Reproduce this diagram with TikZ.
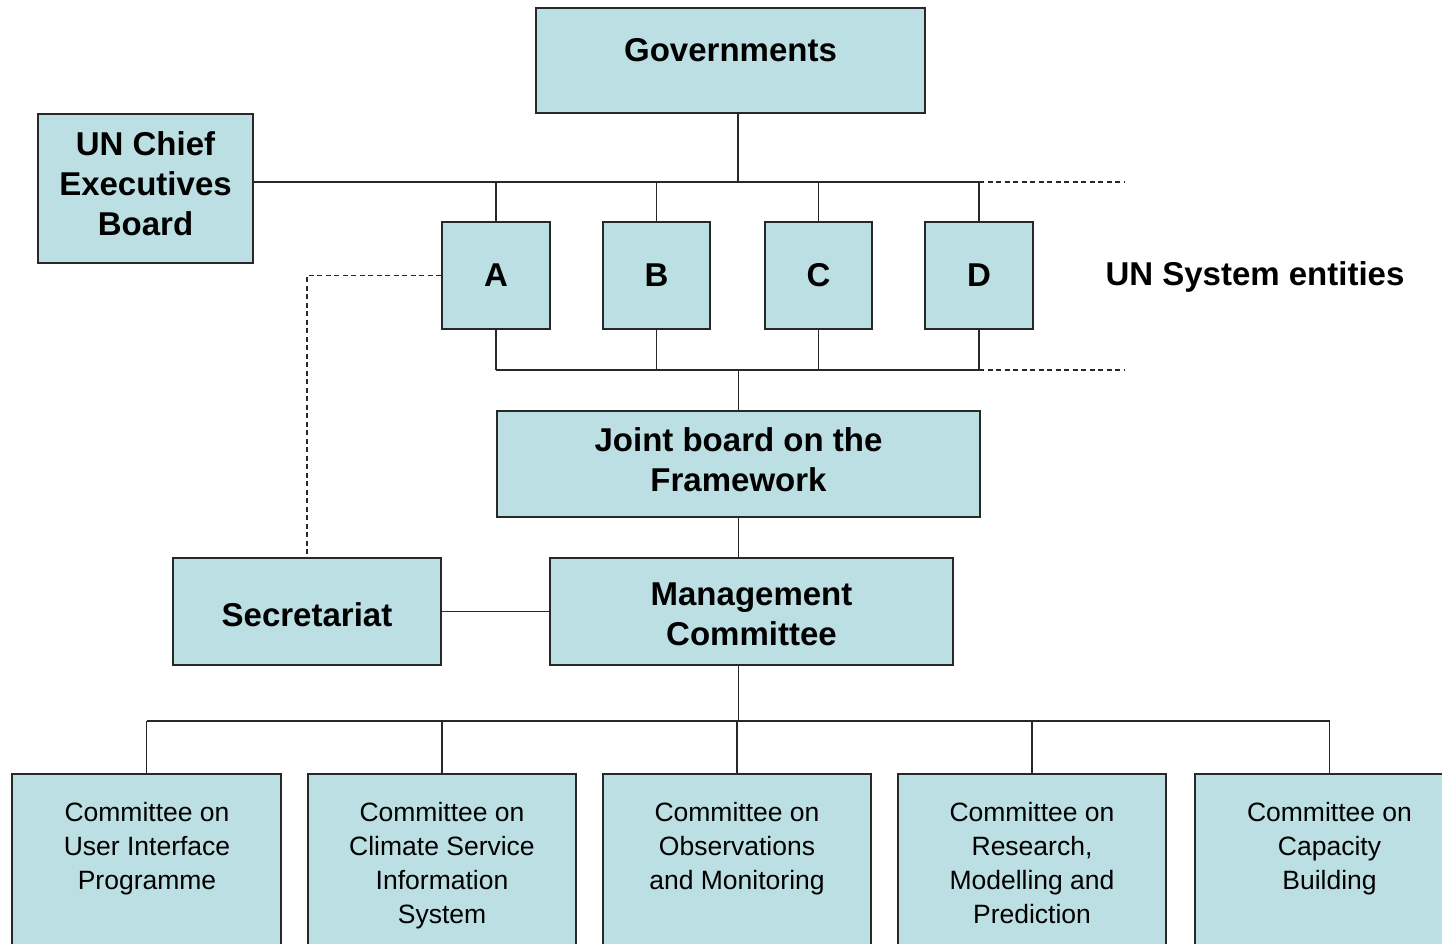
\documentclass[tikz,border=0pt]{standalone}
\usepackage{fontspec}
\setmainfont{Liberation Sans}
\definecolor{bf}{RGB}{187,223,226}
\definecolor{lc}{RGB}{40,40,40}
\begin{document}
\begin{tikzpicture}[x=1pt,y=-1pt,
  box/.style={draw=lc, fill=bf, line width=1.8pt, inner sep=0pt, align=center},
  bt/.style={font=\fontsize{33}{40}\selectfont\bfseries},
  bl/.style={bt, align=center, inner sep=0pt},
  rt/.style={font=\fontsize{26.5}{34}\selectfont, align=center, inner sep=0pt, anchor=north},
  ln/.style={draw=lc, line width=1.8pt},
  dl/.style={draw=lc, line width=1.5pt, dash pattern=on 5pt off 3.5pt}]
\useasboundingbox (0,0) rectangle (1442,944);
\fill[white] (0,0) rectangle (1442,944);
\clip (0,0) rectangle (1442,944);
% boxes
\node[box,bt,minimum width=389pt,minimum height=105pt,text height=23pt,text depth=20pt] (gov) at (730.5,60.5) {Governments};
\node[box,minimum width=215pt,minimum height=149pt,label={[bl,yshift=5pt]center:UN Chief\\Executives\\Board}] (ceb) at (145.5,188.5) {};
\node[box,bt,minimum width=108pt,minimum height=107pt] (A) at (496,275.5) {A};
\node[box,bt,minimum width=107pt,minimum height=107pt] (B) at (656.5,275.5) {B};
\node[box,bt,minimum width=107pt,minimum height=107pt] (C) at (818.5,275.5) {C};
\node[box,bt,minimum width=108pt,minimum height=107pt] (D) at (979,275.5) {D};
\node[bt,inner sep=0pt] (use) at (1255,277) {UN System entities};
\node[box,minimum width=483pt,minimum height=106pt,label={[bl,yshift=4pt]center:Joint board on the\\Framework}] (jb) at (738.5,464) {};
\node[box,minimum width=268pt,minimum height=107pt,label={[bl,yshift=-3pt]center:Secretariat}] (sec) at (307,611.5) {};
\node[box,minimum width=403pt,minimum height=107pt,label={[bl,yshift=-2.5pt]center:Management\\Committee}] (mc) at (751.5,611.5) {};
% bottom committees
\node[box,minimum width=269pt,minimum height=200pt] (b1) at (146.5,874) {};
\node[box,minimum width=268pt,minimum height=200pt] (b2) at (442,874) {};
\node[box,minimum width=268pt,minimum height=200pt] (b3) at (737,874) {};
\node[box,minimum width=268pt,minimum height=200pt] (b4) at (1032,874) {};
\node[box,minimum width=269pt,minimum height=200pt] (b5) at (1329.5,874) {};
\node[rt] (t1) at (147,802) {Committee on\\User Interface\\Programme};
\node[rt] (t2) at (442,802) {Committee on\\Climate Service\\Information\\System};
\node[rt] (t3) at (737,802) {Committee on\\Observations\\and Monitoring};
\node[rt] (t4) at (1032,802) {Committee on\\Research,\\Modelling and\\Prediction};
\node[rt] (t5) at (1329.5,802) {Committee on\\Capacity\\Building};
% bus coordinates
\coordinate (tb) at (738,182);
\coordinate (tbr) at (1125,182);
\coordinate (mb) at (738,370);
\coordinate (mbr) at (1125,370);
\coordinate (cb) at (738,721);
% top bus
\draw[ln] ([yshift=6.5pt]ceb.east) -- (D.north |- tb);
\draw[ln] ([xshift=7.5pt]gov.south) -- ([xshift=7.5pt]gov.south |- tb);
\foreach \n in {A,B,C,D} \draw[ln] (\n.north) -- (\n.north |- tb);
\draw[dl] (D.north |- tb) -- (tbr);
% middle bus
\draw[ln] (A.south |- mb) -- (D.south |- mb);
\foreach \n in {A,B,C,D} \draw[ln] (\n.south) -- (\n.south |- mb);
\draw[dl] (D.south |- mb) -- (mbr);
\draw[ln] (jb.north) -- (jb.north |- mb);
% secretariat dashed link
\draw[dl] (A.west) -- (sec.north |- A.west) -- (sec.north);
\draw[ln] (jb.south) -- (jb.south |- mc.north);
\draw[ln] (sec.east) -- (mc.west);
% committees bus
\draw[ln] (jb.south |- mc.south) -- (jb.south |- cb);
\draw[ln] (b1.north |- cb) -- (b5.north |- cb);
\foreach \n in {b1,b2,b3,b4,b5} \draw[ln] (\n.north) -- (\n.north |- cb);
\end{tikzpicture}
\end{document}
